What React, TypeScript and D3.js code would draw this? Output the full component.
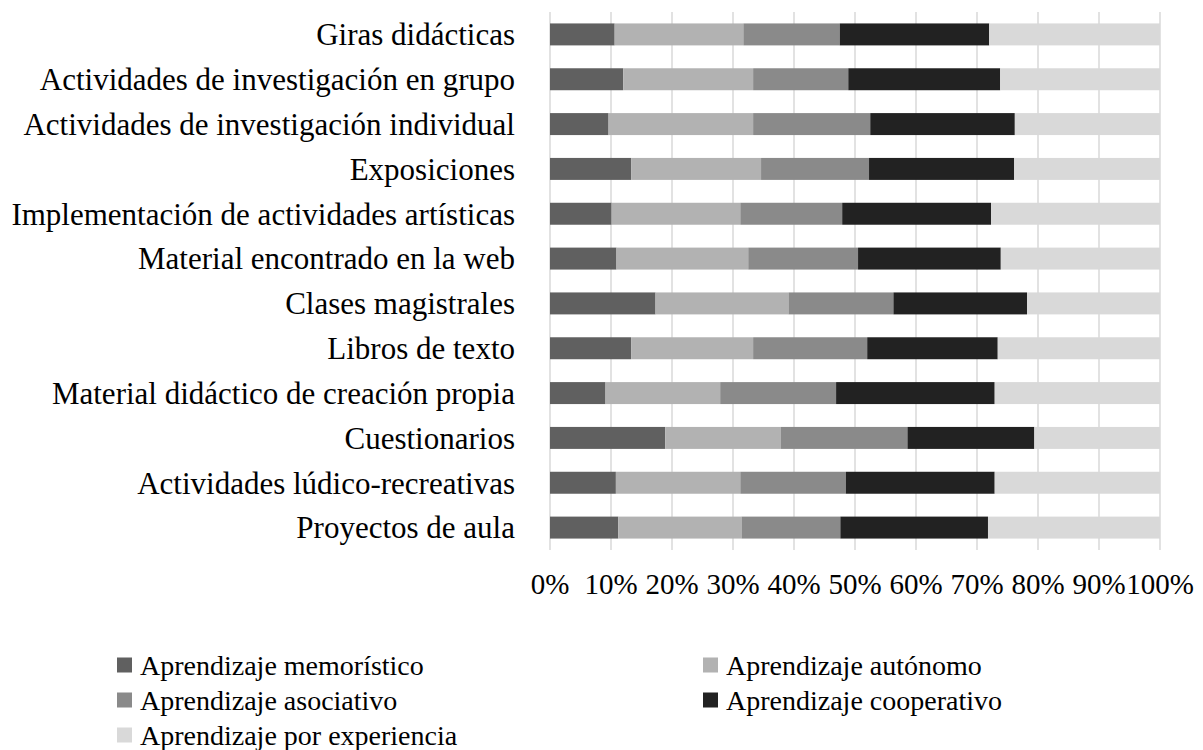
import React from 'react';
import { scaleBand, scaleLinear, stack } from 'd3';

const width = 1203;
const height = 750;
const margin = { top: 12, right: 43, bottom: 200, left: 550 };

const categories = [
  'Giras didácticas',
  'Actividades de investigación en grupo',
  'Actividades de investigación individual',
  'Exposiciones',
  'Implementación de actividades artísticas',
  'Material encontrado en la web',
  'Clases magistrales',
  'Libros de texto',
  'Material didáctico de creación propia',
  'Cuestionarios',
  'Actividades lúdico-recreativas',
  'Proyectos de aula'
];

const seriesNames = [
  'Aprendizaje memorístico',
  'Aprendizaje autónomo',
  'Aprendizaje asociativo',
  'Aprendizaje cooperativo',
  'Aprendizaje por experiencia'
];
const colors = ['#606060', '#b2b2b2', '#8a8a8a', '#222222', '#d9d9d9'];

// percentages per category, in the order of categories
const memoristico = [10.6, 12.0, 9.6, 13.3, 10.1, 10.9, 17.3, 13.3, 9.1, 18.9, 10.8, 11.2];
const autonomo = [21.1, 21.3, 23.7, 21.3, 21.1, 21.6, 21.8, 20.0, 18.8, 18.9, 20.4, 20.2];
const asociativo = [15.8, 15.6, 19.2, 17.7, 16.7, 18.0, 17.2, 18.7, 19.0, 20.8, 17.3, 16.2];
const cooperativo = [24.5, 24.9, 23.7, 23.8, 24.4, 23.4, 21.9, 21.4, 26.0, 20.8, 24.4, 24.2];
const experiencia = [28.0, 26.2, 23.8, 23.9, 27.7, 26.1, 21.8, 26.6, 27.1, 20.6, 27.1, 28.2];

const ticks = [0, 10, 20, 30, 40, 50, 60, 70, 80, 90, 100];

// legend layout: [column, row] for each series
const legendSlots = [[0, 0], [1, 0], [0, 1], [1, 1], [0, 2]];

const font = '"Liberation Serif", "Times New Roman", serif';

const App = () => {
  const rows = categories.map((c, i) => ({
    name: c,
    s0: memoristico[i],
    s1: autonomo[i],
    s2: asociativo[i],
    s3: cooperativo[i],
    s4: experiencia[i]
  }));

  const stacked = stack().keys(['s0', 's1', 's2', 's3', 's4'])(rows as any);

  const xScale = scaleLinear()
    .domain([0, 100])
    .range([margin.left, width - margin.right]);
  const yScale = scaleBand()
    .domain(categories)
    .range([margin.top, height - margin.bottom])
    .paddingInner(0.51)
    .paddingOuter(0.255);

  const legendX = [117, 703];
  const legendY = 665;
  const legendStep = 35;

  return (
    <svg width={width} height={height} style={{ position: 'absolute', left: 0, top: 0, background: '#fff' }}>
      {/* gridlines */}
      <g>
        {ticks.map((t) => (
          <line
            key={t}
            x1={xScale(t)}
            x2={xScale(t)}
            y1={margin.top}
            y2={height - margin.bottom}
            stroke="#d9d9d9"
            strokeWidth={1.5}
          />
        ))}
      </g>

      {/* bars */}
      <g>
        {stacked.map((layer, si) => (
          <g key={si} fill={colors[si]}>
            {layer.map((d: any, i) => (
              <rect
                key={i}
                x={xScale(d[0])}
                width={xScale(d[1]) - xScale(d[0])}
                y={yScale(categories[i])}
                height={yScale.bandwidth()}
              />
            ))}
          </g>
        ))}
      </g>

      {/* category labels */}
      <g fontFamily={font} fontSize={31} fill="#000">
        {categories.map((c) => (
          <text
            key={c}
            x={margin.left - 35}
            y={(yScale(c) as number) + yScale.bandwidth() / 2}
            dy="0.35em"
            textAnchor="end"
          >
            {c}
          </text>
        ))}
      </g>

      {/* x tick labels */}
      <g fontFamily={font} fontSize={29} fill="#000">
        {ticks.map((t) => (
          <text key={t} x={xScale(t)} y={594} textAnchor="middle">
            {t}%
          </text>
        ))}
      </g>

      {/* legend */}
      <g fontFamily={font} fontSize={28} fill="#000">
        {seriesNames.map((s, i) => {
          const [col, row] = legendSlots[i];
          const lx = legendX[col];
          const ly = legendY + row * legendStep;
          return (
            <g key={s}>
              <rect x={lx} y={ly - 7.5} width={15} height={15} fill={colors[i]} />
              <text x={lx + 23} y={ly} dy="0.35em">
                {s}
              </text>
            </g>
          );
        })}
      </g>
    </svg>
  );
};

export default App;
